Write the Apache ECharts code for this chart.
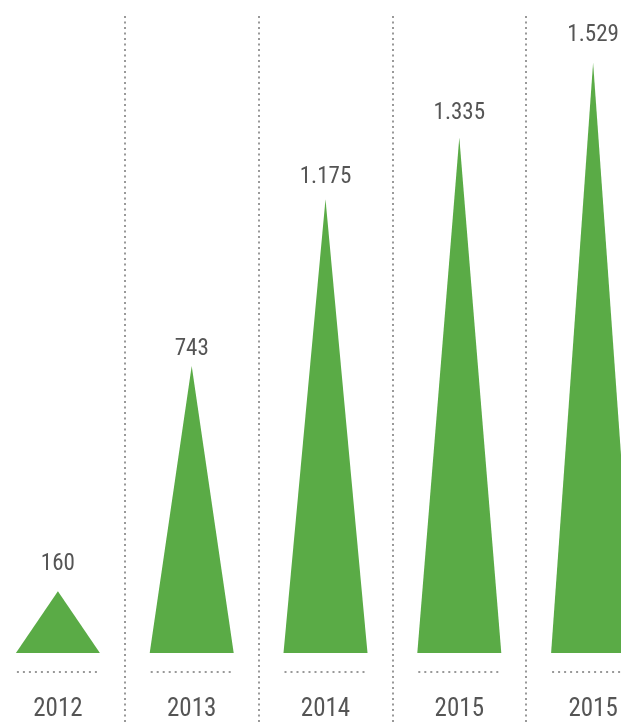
<!DOCTYPE html>
<html>
<head>
<meta charset="utf-8">
<script src="https://cdn.jsdelivr.net/npm/echarts@6/dist/echarts.min.js"></script>
<style>
html,body{margin:0;padding:0;background:#fff;overflow:hidden;width:621px;height:722px;}
#chart{width:669px;height:722px;margin-left:-9px;}
</style>
</head>
<body>
<div id="chart"></div>
<script>
const categories = ['2012', '2013', '2014', '2015', '2015'];
const values = [160, 743, 1175, 1335, 1529];
const valueLabels = ['160', '743', '1.175', '1.335', '1.529'];

const labelGaps = [15, 5, 11, 13, 16];
const FONT = '"Roboto Condensed", "DejaVu Sans Condensed", sans-serif';
const chart = echarts.init(document.getElementById('chart'));
chart.setOption({
  animation: false,
  grid: { left: 0, right: 0, top: 16, bottom: 0, containLabel: false },
  xAxis: {
    type: 'category',
    data: categories,
    axisLine: { show: false },
    axisTick: { show: false },
    axisLabel: {
      inside: true,
      margin: 0,
      color: '#555',
      fontFamily: FONT,
      fontSize: 25
    },
    splitLine: {
      show: true,
      lineStyle: { color: '#999', width: 2, type: [2, 3.5] }
    }
  },
  yAxis: {
    type: 'value',
    min: -179,
    max: 1650,
    show: false,
    splitLine: { show: false }
  },
  series: [
    {
      type: 'pictorialBar',
      symbol: 'triangle',
      symbolSize: [84, '100%'],
      data: values.map((v, i) => ({ value: v, label: { distance: labelGaps[i] } })),
      itemStyle: { color: '#5aab46' },
      label: {
        show: true,
        position: 'top',
        color: '#555',
        fontFamily: FONT,
        fontSize: 23,
        formatter: p => valueLabels[p.dataIndex]
      },
      z: 3
    },
    {
      type: 'custom',
      data: values.map((v, i) => [i, 0]),
      renderItem: function (params, api) {
        const p = api.coord([api.value(0), 0]);
        return {
          type: 'line',
          shape: { x1: p[0] - 41, y1: p[1] + 19, x2: p[0] + 42, y2: p[1] + 19 },
          style: { stroke: '#999', lineWidth: 2, lineDash: [2, 4] }
        };
      },
      silent: true
    }
  ]
});
</script>
</body>
</html>
